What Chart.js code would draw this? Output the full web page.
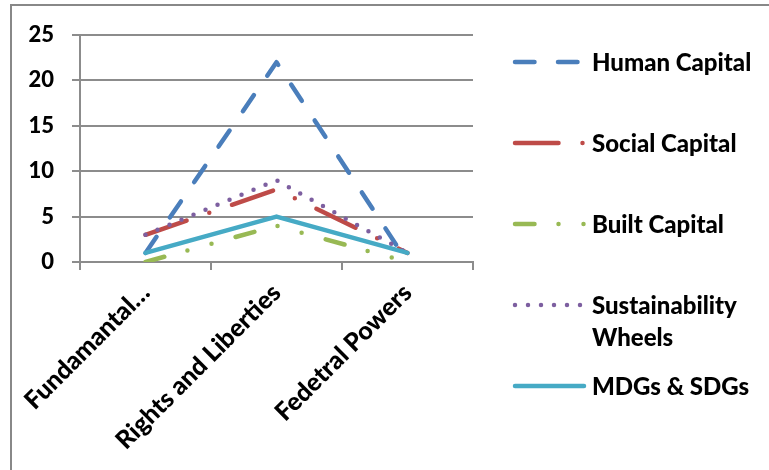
<!DOCTYPE html>
<html>
<head>
<meta charset="utf-8">
<script src="https://cdn.jsdelivr.net/npm/chart.js@4"></script>
<style>
  html, body { margin: 0; padding: 0; background: #fff; overflow: hidden; }
  #wrap { position: relative; width: 769px; height: 470px; }
  #frame { position: absolute; left: 10px; top: 4px; width: 820px; height: 600px; border: 2px solid #888; box-sizing: border-box; }
  canvas { position: absolute; left: 0; top: 0; }
</style>
</head>
<body>
<div id="wrap">
  <div id="frame"></div>
  <canvas id="c" width="769" height="470"></canvas>
</div>
<script>
const categories = ["Fundamantal…", "Rights and Liberties", "Fedetral Powers"];
const seriesNames = ["Human Capital", "Social Capital", "Built Capital", "Sustainability Wheels", "MDGs & SDGs"];
const humanCapital = [1, 22, 0];
const socialCapital = [3, 8, 1];
const builtCapital = [0, 4, 0];
const sustainabilityWheels = [3, 9, 1];
const mdgsSdgs = [1, 5, 1];
const yTicks = [0, 5, 10, 15, 20, 25];

const FONT = "Lato";
const WEIGHT = "900";
const LW = 4.5;
const styles = [
  { color: "#4a7ebb", dash: [19.5, 23.5] },
  { color: "#be4b48", dash: [43.5, 24, 0, 24] },
  { color: "#98b954", dash: [19.5, 24, 0, 25, 0, 25] },
  { color: "#7d5fa0", dash: [0, 13] },
  { color: "#46aac5", dash: [] }
];
const values = [humanCapital, socialCapital, builtCapital, sustainabilityWheels, mdgsSdgs];

const datasets = values.map((v, i) => ({
  label: seriesNames[i],
  data: v,
  borderColor: styles[i].color,
  backgroundColor: styles[i].color,
  borderWidth: LW,
  borderDash: styles[i].dash,
  borderCapStyle: "round",
  borderJoinStyle: "round",
  pointRadius: 0,
  tension: 0,
  fill: false,
  order: values.length - i
}));

const legendPlugin = {
  id: "customLegend",
  afterDraw(chart) {
    const ctx = chart.ctx;
    ctx.save();
    const x0 = 513, x1 = 586, textX = 592;
    let y = 62;
    const lineH = 32;
    const gap = 81;
    ctx.font = WEIGHT + " 24px " + FONT;
    ctx.textBaseline = "middle";
    ctx.textAlign = "left";
    chart.data.datasets.forEach((ds) => {
      const words = ds.label.split(" ");
      const lines = [];
      let cur = "";
      words.forEach(w => {
        const t = cur ? cur + " " + w : w;
        if (ctx.measureText(t).width > 172 && cur) { lines.push(cur); cur = w; } else { cur = t; }
      });
      lines.push(cur);
      ctx.beginPath();
      ctx.strokeStyle = ds.borderColor;
      ctx.lineWidth = ds.borderWidth;
      ctx.lineCap = "round";
      ctx.setLineDash(ds.borderDash || []);
      ctx.lineDashOffset = 0;
      ctx.moveTo(x0 + 2, y);
      ctx.lineTo(x1 - 2, y);
      ctx.stroke();
      ctx.setLineDash([]);
      ctx.fillStyle = "#000";
      lines.forEach((ln, k) => ctx.fillText(ln, textX, y + k * lineH + 1));
      y += gap;
    });
    ctx.restore();
  }
};

new Chart(document.getElementById("c"), {
  type: "line",
  data: { labels: categories, datasets: datasets },
  plugins: [legendPlugin],
  options: {
    responsive: false,
    animation: false,
    events: [],
    layout: { padding: { left: 0, top: 35, right: 296, bottom: 0 } },
    plugins: { legend: { display: false }, tooltip: { enabled: false } },
    scales: {
      x: {
        offset: true,
        afterFit(scale) { scale.height = 208; },
        grid: { display: true, drawOnChartArea: false, drawTicks: true, offset: true, tickLength: 8, color: "#8c8c8c", lineWidth: 2 },
        border: { display: true, color: "#8c8c8c", width: 2 },
        ticks: { color: "#000", font: { family: FONT, weight: WEIGHT, size: 25 }, minRotation: 45, maxRotation: 45, padding: 8, autoSkip: false }
      },
      y: {
        min: 0, max: 25,
        afterFit(scale) { scale.width = 80; },
        afterBuildTicks(scale) { scale.ticks = yTicks.map(v => ({ value: v })); },
        grid: { color: "#8c8c8c", lineWidth: 2, drawTicks: true, tickLength: 8 },
        border: { display: true, color: "#8c8c8c", width: 2 },
        ticks: { color: "#000", font: { family: FONT, weight: WEIGHT, size: 22 }, padding: 18 }
      }
    }
  }
});
</script>
</body>
</html>
